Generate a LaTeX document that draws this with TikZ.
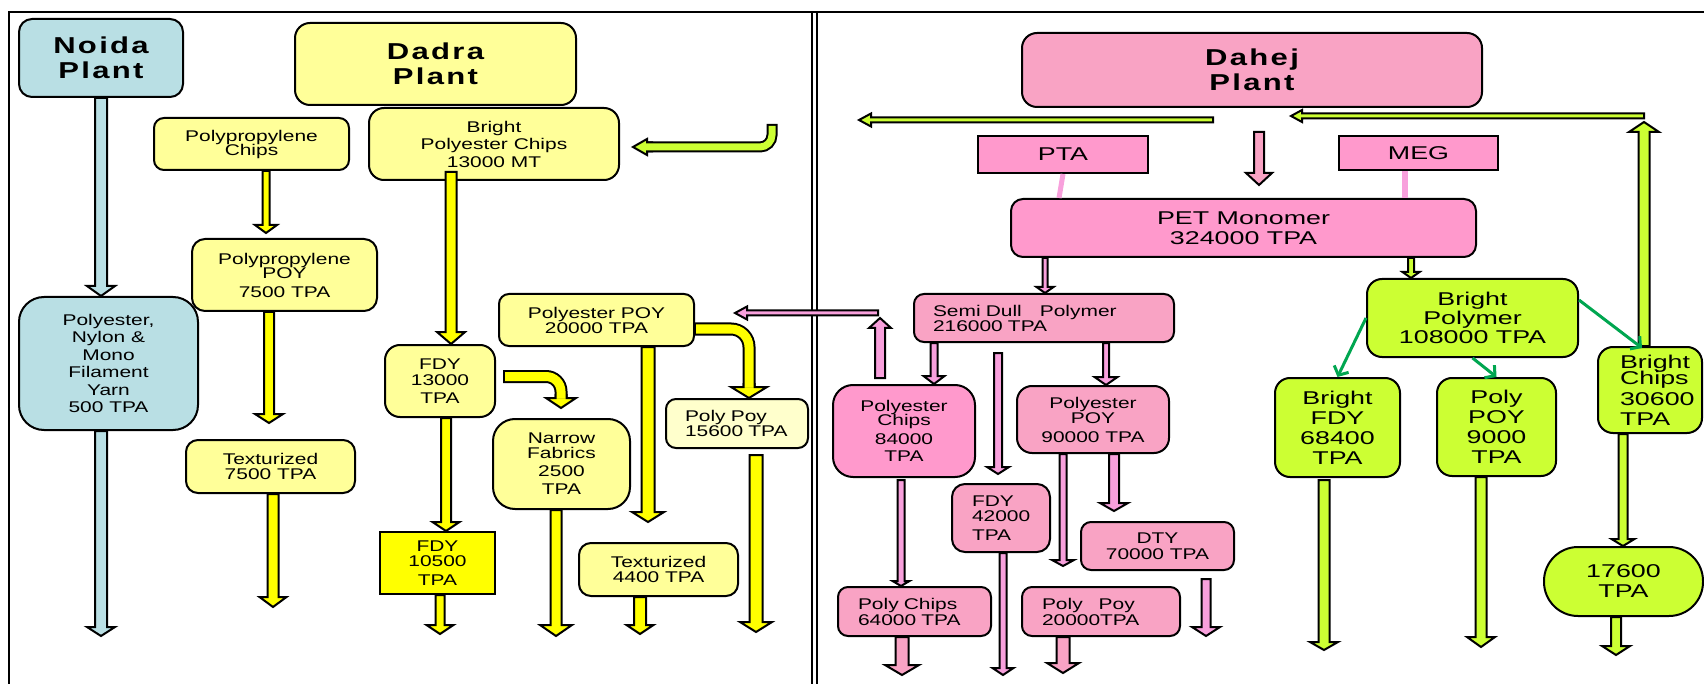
\documentclass[tikz,border=0pt]{standalone}
\usepackage{fontspec}
\setmainfont{Liberation Sans}
\newfontfamily\af[FakeStretch=1.35]{Liberation Sans}
\newfontfamily\afw[FakeStretch=1.45]{Liberation Sans}
\newfontfamily\tf[FakeStretch=1.35,LetterSpace=10]{Liberation Sans}
\usetikzlibrary{calc,arrows.meta}
\definecolor{blu}{HTML}{B9DFE4}
\definecolor{yl}{HTML}{FFFF99}
\definecolor{ylx}{HTML}{FFFFCC}
\definecolor{yel}{HTML}{FFFF00}
\definecolor{pkA}{HTML}{F9A3C4}
\definecolor{pkB}{HTML}{FF99CC}
\definecolor{pkV}{HTML}{F8A0DC}
\definecolor{lime}{HTML}{CCFF33}
\definecolor{grn}{HTML}{00A650}
% block arrow: fill, from, to, shaft half width, head half width, head length
\newcommand\barrow[6]{%
  \coordinate (bas) at (#2);
  \coordinate (bat) at (#3);
  \coordinate (bah) at ($(bat)!#6pt!(bas)$);
  \filldraw[arr, fill=#1] ($(bas)!#4pt!90:(bat)$) -- ($(bah)!#4pt!90:(bat)$) -- ($(bah)!#5pt!90:(bat)$) -- (bat)
    -- ($(bah)!#5pt!-90:(bat)$) -- ($(bah)!#4pt!-90:(bat)$) -- ($(bas)!#4pt!-90:(bat)$) -- cycle;}
\tikzset{
  arr/.style={draw=black, line width=2pt},
  box/.style={draw=black, line width=2pt, rounded corners=12pt, inner sep=2pt, align=center},
  every node/.style={font=\af\fontsize{15.5}{16}\selectfont},
  title/.style={font=\tf\bfseries\fontsize{23}{25}\selectfont},
  bigtxt/.style={font=\afw\fontsize{18.5}{20}\selectfont},
  frame/.style={draw=black, line width=2pt},
  garr/.style={draw=grn, line width=3pt, -{Straight Barb[length=7pt,width=16pt]}},
  link/.style={draw=pkV, line width=5pt}
}
\begin{document}
\begin{tikzpicture}[x=1pt,y=-1pt]
\useasboundingbox (0,0) rectangle (1704,684);
% frame
\draw[frame] (9,684) -- (9,12) -- (1704,12);
\draw[frame] (812,12) -- (812,684);
\draw[frame] (817,12) -- (817,684);

% ---------- left boxes
\node[box, fill=blu, rounded corners=13pt, minimum width=164pt, minimum height=78pt, title] (noida) at (101,58) {Noida\\Plant};
\node[box, fill=blu, rounded corners=25pt, minimum width=179pt, minimum height=133pt] (pnm) at (108.5,363.5) {Polyester,\\[1.5pt]Nylon \&\\[1.5pt]Mono\\[1.5pt]Filament\\[1.5pt]Yarn\\[1.5pt]500 TPA};
\node[box, fill=yl, rounded corners=15pt, minimum width=281pt, minimum height=82pt, title] (dadra) at (435.5,64) {Dadra\\Plant};
\node[box, fill=yl, rounded corners=10pt, minimum width=195pt, minimum height=52pt] (ppchips) at (251.5,144) {Polypropylene\\[-2pt]Chips};
\node[box, fill=yl, rounded corners=15pt, minimum width=250pt, minimum height=72pt] (bpchips) at (494,144) {Bright\\[1pt]Polyester Chips\\[2pt]13000 MT};
\node[box, fill=yl, rounded corners=13pt, minimum width=185pt, minimum height=72pt] (ppoy) at (284.5,275) {Polypropylene\\[-2pt]POY\\[3pt]7500 TPA};
\node[box, fill=yl, rounded corners=12pt, minimum width=169pt, minimum height=53pt] (tex75) at (270.5,466.5) {Texturized\\[-1pt]7500 TPA};
\node[box, fill=yl, rounded corners=15pt, minimum width=110pt, minimum height=72pt] (fdy13) at (440,381) {FDY\\13000\\[2pt]TPA};
\node[box, fill=yel, sharp corners, minimum width=115pt, minimum height=62pt] (fdy105) at (437.5,563) {FDY\\[-1pt]10500\\[3pt]TPA};
\node[box, fill=yl, rounded corners=22pt, minimum width=137pt, minimum height=90pt] (narrow) at (561.5,464) {Narrow\\[-1pt]Fabrics\\[2pt]2500\\[2pt]TPA};
\node[box, fill=yl, rounded corners=10pt, minimum width=195pt, minimum height=52pt] (poy20) at (596.5,320) {Polyester POY\\[-1pt]20000 TPA};
\node[box, fill=yl, rounded corners=12pt, minimum width=159pt, minimum height=53pt] (tex44) at (658.5,569.5) {Texturized\\[-1pt]4400 TPA};
\node[box, fill=ylx, rounded corners=10pt, minimum width=142pt, minimum height=49pt, text width=114pt, inner xsep=14pt, align=left] (pp156) at (737,423.5) {\hspace*{5pt}Poly Poy\\[-1pt]\hspace*{5pt}15600 TPA};

% ---------- right boxes
\node[box, fill=pkA, rounded corners=15pt, minimum width=460pt, minimum height=74pt, title] (dahej) at (1252,70) {Dahej\\Plant};
\node[box, fill=pkB, sharp corners, minimum width=170pt, minimum height=37pt, bigtxt] (pta) at (1063,154.5) {PTA};
\node[box, fill=pkB, sharp corners, minimum width=159pt, minimum height=34pt, bigtxt] (meg) at (1418.5,153) {MEG};
\node[box, fill=pkB, rounded corners=12pt, minimum width=465pt, minimum height=58pt, bigtxt] (pet) at (1243.5,228) {PET Monomer\\324000 TPA};
\draw[link] (pta.south) -- (1059,0 |- pet.north);
\draw[link, line width=6pt] (1405,0 |- meg.south) -- (1405,0 |- pet.north);
\node[box, fill=pkA, rounded corners=10pt, minimum width=260pt, minimum height=48pt, text width=222pt, inner xsep=19pt, align=left] (semi) at (1044,318) {Semi Dull\hspace{18pt}Polymer\\[-1pt]216000 TPA};
\node[box, fill=pkB, rounded corners=20pt, minimum width=142pt, minimum height=92pt] (pc84) at (904,431) {Polyester\\[-2pt]Chips\\[3pt]84000\\[1pt]TPA};
\node[box, fill=pkA, rounded corners=15pt, minimum width=152pt, minimum height=67pt] (poy90) at (1093,419.5) {Polyester\\[-1pt]POY\\[3pt]90000 TPA};
\node[box, fill=pkA, rounded corners=13pt, minimum width=98pt, minimum height=68pt, text width=58pt, inner xsep=20pt, align=left] (fdy42) at (1001,518) {FDY\\[-1pt]42000\\[3pt]TPA};
\node[box, fill=pkA, rounded corners=10pt, minimum width=153pt, minimum height=48pt] (dty) at (1157.5,546) {DTY\\70000 TPA};
\node[box, fill=pkA, rounded corners=10pt, minimum width=153pt, minimum height=49pt, text width=113pt, inner xsep=20pt, align=left] (pc64) at (914.5,611.5) {Poly Chips\\64000 TPA};
\node[box, fill=pkA, rounded corners=10pt, minimum width=158pt, minimum height=49pt, text width=118pt, inner xsep=20pt, align=left] (pp20) at (1101,611.5) {Poly\hspace{16pt}Poy\\20000TPA};
\node[box, fill=lime, rounded corners=15pt, minimum width=211pt, minimum height=78pt, bigtxt] (bpoly) at (1472.5,318) {Bright\\[-1pt]Polymer\\[-1pt]108000 TPA};
\node[box, fill=lime, rounded corners=15pt, minimum width=125pt, minimum height=99pt, bigtxt] (bfdy) at (1337.5,427.5) {Bright\\FDY\\68400\\TPA};
\node[box, fill=lime, rounded corners=15pt, minimum width=119pt, minimum height=98pt, bigtxt] (ppoy9) at (1496.5,427) {Poly\\POY\\9000\\TPA};
\node[box, fill=lime, rounded corners=15pt, minimum width=104pt, minimum height=86pt, bigtxt, text width=60pt, inner xsep=22pt, align=left] (bchips) at (1650,390) {Bright\\[-4pt]Chips\\[1pt]30600\\TPA};
\node[box, fill=lime, rounded corners=34pt, minimum width=159pt, minimum height=69pt, bigtxt] (t176) at (1623.5,581.5) {17600\\TPA};

% ---------- left arrows
\barrow{blu}{101,0 |- noida.south}{101,0 |- pnm.north}{6}{14}{10}
\barrow{blu}{101,0 |- pnm.south}{101,636}{6}{14}{9}
\barrow{yel}{266,0 |- ppchips.south}{266,233}{3.5}{11}{8}
\barrow{yel}{269,0 |- ppoy.south}{269,423}{5}{14}{9}
\barrow{yel}{273,0 |- tex75.south}{273,607}{5.5}{13.5}{10}
\barrow{yel}{451,172}{451,0 |- fdy13.north}{5.5}{14}{12}
\barrow{yel}{446,0 |- fdy13.south}{446,0 |- fdy105.north}{5}{13.5}{9}
\barrow{yel}{440,0 |- fdy105.south}{440,634}{4.5}{13.5}{9}
\barrow{yel}{556,0 |- narrow.south}{556,636}{5.5}{16}{11}
\barrow{yel}{648,0 |- poy20.south}{648,522}{6.5}{16}{10}
\barrow{yel}{640,0 |- tex44.south}{640,634}{6}{13.5}{9}
\barrow{yel}{756,455}{756,632}{6.5}{16}{10}
% pink arrows crossing into left panel
\barrow{pkV}{878,313}{735,313}{2.5}{6.5}{12}
\barrow{pkV}{880,378}{880,318}{5}{11}{10}
% bent lime arrow into Bright Polyester Chips
\barrow{lime}{652,147}{633,147}{4.5}{8}{14}
\draw[black, line width=11pt, rounded corners=12pt] (772,124) -- (772,147) -- (647,147);
\draw[lime, line width=7pt, rounded corners=12pt] (772,126) -- (772,147) -- (647,147);
% bent yellow arrow Polyester POY -> Poly Poy
\barrow{yel}{749,384}{749,0 |- pp156.north}{5.5}{18}{11}
\draw[black, line width=13pt, rounded corners=18pt] (poy20.east |- 0,329) -- (749,329) -- (749,387);
\draw[yel, line width=9pt, rounded corners=18pt] (696,329) -- (749,329) -- (749,387);
% bent yellow arrow FDY -> Narrow Fabrics
\barrow{yel}{561,395}{561,408}{5.5}{15}{10}
\draw[black, line width=13pt, rounded corners=15pt] (503,376.5) -- (561,376.5) -- (561,398);
\draw[yel, line width=9pt, rounded corners=15pt] (505,376.5) -- (561,376.5) -- (561,398);

% ---------- right arrows
\barrow{lime}{1213,120}{859,120}{2.5}{6.5}{12}
\barrow{lime}{1644,116}{1291,116}{2.5}{6}{11}
\barrow{lime}{1644,0 |- bchips.north}{1644,122}{5.5}{15}{10}
\barrow{pkA}{1259,132}{1259,185}{5}{13}{12}
\barrow{pkV}{1045,0 |- pet.south}{1045,0 |- semi.north}{2.5}{8.5}{6}
\barrow{lime}{1411,0 |- pet.south}{1411,0 |- bpoly.north}{3}{8.5}{6}
\barrow{pkV}{934,0 |- semi.south}{934,0 |- pc84.north}{3.5}{10.5}{8}
\barrow{pkV}{998,353}{998,474}{4}{11}{7}
\barrow{pkV}{1106,0 |- semi.south}{1106,0 |- poy90.north}{3}{11.5}{8}
\barrow{pkV}{901,480}{901,0 |- pc64.north}{3.5}{8.5}{5}
\barrow{pkV}{1003,0 |- fdy42.south}{1003,675}{3.5}{10.5}{7}
\barrow{pkV}{1063,0 |- poy90.south}{1063,566}{3.5}{11}{6}
\barrow{pkV}{1114,0 |- poy90.south}{1114,511}{5}{14}{8}
\barrow{pkV}{1206,579}{1206,636}{4.5}{14}{9}
\barrow{pkA}{902,0 |- pc64.south}{902,675}{6.5}{17}{10}
\barrow{pkA}{1063,0 |- pp20.south}{1063,673}{6.5}{16}{10}
\barrow{lime}{1324,480}{1324,650}{5.5}{14}{8}
\barrow{lime}{1481,0 |- ppoy9.south}{1481,647}{5.5}{14}{10}
\barrow{lime}{1623,0 |- bchips.south}{1623,0 |- t176.north}{4.5}{11.5}{7}
\barrow{lime}{1616,0 |- t176.south}{1616,655}{5}{14}{9}
% green arrows
\draw[garr] (bpoly.west) -- (bfdy.north);
\draw[garr] (bpoly.south) -- (ppoy9.north);
\draw[garr] ([yshift=18pt]bpoly.east) -- (1642,348);
\end{tikzpicture}
\end{document}
